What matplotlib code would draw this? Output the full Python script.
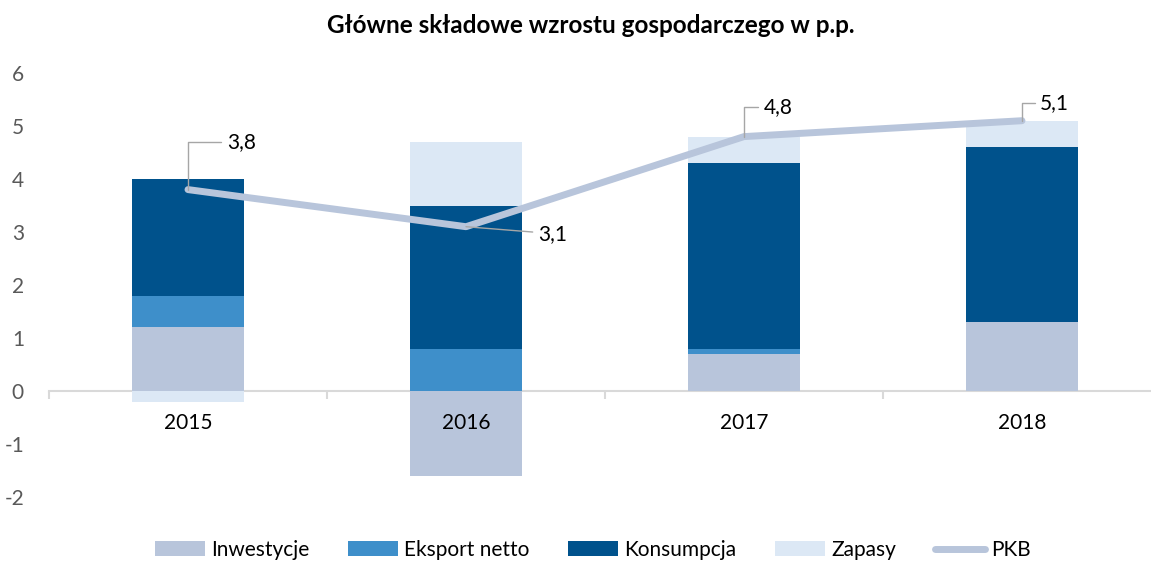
import matplotlib.pyplot as plt
import numpy as np

plt.rcParams['font.family'] = ['Lato', 'DejaVu Sans']
plt.rcParams['axes.unicode_minus'] = False

years = ['2015', '2016', '2017', '2018']
inwestycje = [1.2, -1.6, 0.7, 1.3]
eksport = [0.6, 0.8, 0.1, 0.0]
konsumpcja = [2.2, 2.7, 3.5, 3.3]
zapasy = [-0.2, 1.2, 0.5, 0.5]
pkb = [3.8, 3.1, 4.8, 5.1]
pkb_labels = ['3,8', '3,1', '4,8', '5,1']

series = [
    ('Inwestycje', inwestycje, '#b8c5db'),
    ('Eksport netto', eksport, '#3e8fca'),
    ('Konsumpcja', konsumpcja, '#00528c'),
    ('Zapasy', zapasy, '#dce8f5'),
]

fig = plt.figure(figsize=(11.51, 5.62), dpi=100)
ax = fig.add_axes([49 / 1151, 1 - 497 / 562, 1112 / 1151, 424 / 562])

x = np.arange(len(years))
pos_base = np.zeros(len(years))
neg_base = np.zeros(len(years))
handles = []
for name, vals, color in series:
    vals = np.array(vals)
    bottom = np.where(vals >= 0, pos_base, neg_base)
    b = ax.bar(x, vals, 0.4, bottom=bottom, color=color, label=name, zorder=2)
    handles.append(b)
    pos_base += np.where(vals >= 0, vals, 0)
    neg_base += np.where(vals < 0, vals, 0)

ln, = ax.plot(x, pkb, color='#b8c5db', lw=5, label='PKB', zorder=3, solid_capstyle='round')
handles.append(ln)

# etykiety PKB z liniami odniesienia
offsets = [(28, 34), (52, -5), (14, 21), (13, 13)]
for i, (v, lab) in enumerate(zip(pkb, pkb_labels)):
    dx, dy = offsets[i]
    if dy > 0:
        cs = 'angle,angleA=0,angleB=90,rad=0'
    else:
        cs = 'arc3,rad=0'
    ax.annotate(lab, (x[i], v), xytext=(dx, dy), textcoords='offset points',
                fontsize=15, ha='left', va='center', color='black',
                arrowprops=dict(arrowstyle='-', color='#a6a6a6', lw=1,
                                connectionstyle=cs, shrinkA=2, shrinkB=0),
                zorder=4)

ax.set_xlim(-0.5, 3.5)
ax.set_ylim(-2, 6)
ax.set_yticks(range(-2, 7))
ax.tick_params(axis='y', length=0, pad=18, labelsize=15, labelcolor='#595959')

for s in ['top', 'right', 'left']:
    ax.spines[s].set_visible(False)
ax.spines['bottom'].set_position(('data', 0))
ax.spines['bottom'].set_color('#d9d9d9')
ax.spines['bottom'].set_linewidth(1.5)
ax.spines['bottom'].set_zorder(1)

ax.set_xticks(x)
ax.set_xticklabels(years)
ax.set_xticks(np.arange(-0.5, 3.6, 1), minor=True)
ax.tick_params(axis='x', which='major', length=0, pad=16, labelsize=15)
ax.tick_params(axis='x', which='minor', length=6, width=1.5, color='#d9d9d9', direction='out')
ax.xaxis.set_zorder(5)

fig.suptitle('Główne składowe wzrostu gospodarczego w p.p.', fontsize=17.5,
             fontweight='bold', x=0.513, y=0.975)

fig.legend(handles, [h.get_label() for h in handles], loc='center',
           bbox_to_anchor=(0.515, 1 - 550 / 562), ncol=5,
           frameon=False, fontsize=15, handlelength=2.4, handleheight=0.7,
           columnspacing=1.85, handletextpad=0.3)

fig.savefig('out.png', dpi=100)
